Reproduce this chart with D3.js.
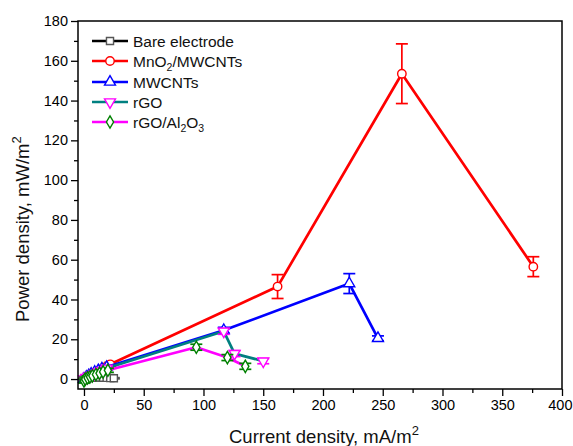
<!DOCTYPE html>
<html>
<head>
<meta charset="utf-8">
<script src="https://cdn.jsdelivr.net/npm/d3@7/dist/d3.min.js"></script>
<style>
  html, body { margin: 0; padding: 0; background: #fff; }
  svg { display: block; font-family: "Liberation Sans", Arial, sans-serif; }
</style>
</head>
<body>
<svg id="chart" width="573" height="446"></svg>
<script>
// Power density vs current density for each electrode material
const bareX = [0, 2, 4, 7, 10, 13, 16, 19, 22, 25];
const bareY = [0, 0.3, 0.5, 0.7, 0.8, 0.8, 0.7, 0.6, 0.5, 0.4];
const bareErr = [0.2, 0.2, 0.2, 0.3, 0.3, 0.3, 0.3, 0.3, 0.3, 0.3];

const mnoX = [0, 2, 5, 8, 11, 15, 18, 22, 162, 266, 376];
const mnoY = [0, 0.7, 1.6, 2.6, 3.6, 4.9, 6.0, 7.4, 46.5, 153.5, 56.5];
const mnoErr = [0.3, 0.4, 0.5, 0.6, 0.7, 0.8, 0.9, 1.0, 6, 15, 5];

const mwcntX = [0, 2, 4, 6, 9, 12, 15, 19, 117, 222, 246];
const mwcntY = [0, 1.0, 1.8, 2.6, 3.5, 4.3, 5.2, 6.0, 24.5, 48, 20.5];
const mwcntErr = [0.3, 0.4, 0.5, 0.6, 0.6, 0.7, 0.8, 0.9, 1.5, 5, 1.2];

const rgoX = [0, 2, 4, 6, 9, 12, 15, 19, 117, 126, 150];
const rgoY = [0, 0.7, 1.3, 1.9, 2.7, 3.5, 4.3, 5.4, 24, 12.8, 9];
const rgoErr = [0.3, 0.4, 0.4, 0.5, 0.6, 0.6, 0.7, 0.8, 1.5, 1.5, 1.3];

const alX = [0, 1, 3, 5, 7, 10, 13, 16, 20, 94, 120, 135];
const alY = [-1, 0, 0.6, 1.1, 1.6, 2.3, 2.9, 3.6, 4.4, 16, 10.8, 6.4];
const alErr = [1, 1, 1, 1, 1, 1, 1, 1, 1, 1.5, 1.5, 1.5];

const seriesNames = ["Bare electrode", "MnO2/MWCNTs", "MWCNTs", "rGO", "rGO/Al2O3"];
const lineColors = ["#000000", "#ff0000", "#0000ff", "#008080", "#ff00ff"];
const markerColors = ["#555555", "#ff0000", "#0000ff", "#ff00ff", "#008000"];
const markerShapes = ["square", "circle", "triangle", "triangleDown", "diamond"];

const xTicks = [0, 50, 100, 150, 200, 250, 300, 350, 400];
const yTicks = [0, 20, 40, 60, 80, 100, 120, 140, 160, 180];

const seriesData = [
  [bareX, bareY, bareErr],
  [mnoX, mnoY, mnoErr],
  [mwcntX, mwcntY, mwcntErr],
  [rgoX, rgoY, rgoErr],
  [alX, alY, alErr]
].map(([xs, ys, es], i) => ({
  name: seriesNames[i],
  line: lineColors[i],
  mark: markerColors[i],
  shape: markerShapes[i],
  pts: xs.map((xv, j) => ({ x: xv, y: ys[j], e: es[j] }))
}));

const svg = d3.select("#chart");
const plotLeft = 78, plotRight = 562, plotTop = 21, plotBottom = 389;

const x = d3.scaleLinear().domain([-5, 400]).range([plotLeft, plotRight]);
const y = d3.scaleLinear().domain([-5, 180]).range([plotBottom, plotTop]);

// Axes: major ticks with labels, then minor ticks
const fontTick = "14.5px";
const xAxis = d3.axisBottom(x).tickValues(xTicks).tickSize(7).tickPadding(4);
const yAxis = d3.axisLeft(y).tickValues(yTicks).tickSize(7).tickPadding(3);
const xMinor = d3.axisBottom(x).tickValues(d3.range(25, 400, 50)).tickSize(4).tickFormat("");
const yMinor = d3.axisLeft(y).tickValues(d3.range(10, 180, 20)).tickSize(4).tickFormat("");

function styleAxis(g) {
  g.select(".domain").remove();
  g.selectAll(".tick line").attr("stroke", "#000").attr("stroke-width", 1.3);
  g.selectAll(".tick text").attr("fill", "#000").style("font-size", fontTick)
    .style("font-family", "'Liberation Sans', Arial, sans-serif");
}

const gx = svg.append("g").attr("transform", `translate(0,${plotBottom})`).call(xAxis).call(styleAxis);
// keep the last label inside the canvas
gx.selectAll(".tick text").filter(d => d === 400).attr("text-anchor", "end").attr("x", 10);
svg.append("g").attr("transform", `translate(0,${plotBottom})`).call(xMinor).call(styleAxis);
svg.append("g").attr("transform", `translate(${plotLeft},0)`).call(yAxis).call(styleAxis);
svg.append("g").attr("transform", `translate(${plotLeft},0)`).call(yMinor).call(styleAxis);

// Axis titles
const xt = svg.append("text").attr("x", 229).attr("y", 443)
  .style("font-size", "18.5px").attr("fill", "#111");
xt.append("tspan").text("Current density, mA/m");
xt.append("tspan").attr("dy", -8).style("font-size", "13px").text("2");

const yt = svg.append("text")
  .attr("transform", "translate(29,322) rotate(-90)")
  .style("font-size", "18.5px").attr("fill", "#111");
yt.append("tspan").text("Power density, mW/m");
yt.append("tspan").attr("dy", -8).style("font-size", "13px").text("2");

// Marker drawing helper
const symbolFor = {
  square: d3.symbolSquare,
  circle: d3.symbolCircle,
  triangle: d3.symbolTriangle,
  triangleDown: d3.symbolTriangle,
  diamond: d3.symbolDiamond
};
const sizeFor = { square: 50, circle: 56, triangle: 52, triangleDown: 52, diamond: 44 };

function drawMarker(g, shape, color, cx, cy) {
  const rot = shape === "triangleDown" ? " rotate(180)" : "";
  g.append("path")
    .attr("d", d3.symbol().type(symbolFor[shape]).size(sizeFor[shape])())
    .attr("transform", `translate(${cx},${cy})${rot}`)
    .attr("fill", "#fff")
    .attr("stroke", color)
    .attr("stroke-width", 1.4);
}

const plot = svg.append("g");
const line = d3.line().x(d => x(d.x)).y(d => y(d.y));

seriesData.forEach(s => {
  const g = plot.append("g");
  g.append("path").datum(s.pts).attr("d", line)
    .attr("fill", "none").attr("stroke", s.line).attr("stroke-width", 2.7)
    .attr("stroke-linejoin", "round");
  // Error bars with caps
  s.pts.forEach(p => {
    const px = x(p.x), y1 = y(p.y + p.e), y2 = y(p.y - p.e);
    g.append("line").attr("x1", px).attr("x2", px).attr("y1", y1).attr("y2", y2)
      .attr("stroke", s.mark).attr("stroke-width", 1.7);
    [y1, y2].forEach(yy => g.append("line")
      .attr("x1", px - 6).attr("x2", px + 6).attr("y1", yy).attr("y2", yy)
      .attr("stroke", s.mark).attr("stroke-width", 1.7));
  });
  s.pts.forEach(p => drawMarker(g, s.shape, s.mark, x(p.x), y(p.y)));
});

// Frame
svg.append("rect").attr("x", plotLeft).attr("y", plotTop)
  .attr("width", plotRight - plotLeft).attr("height", plotBottom - plotTop)
  .attr("fill", "none").attr("stroke", "#000").attr("stroke-width", 1.5);

// Legend
const legend = svg.append("g");
const legendLabels = [
  [["Bare electrode"]],
  [["MnO"], ["2", "sub"], ["/MWCNTs"]],
  [["MWCNTs"]],
  [["rGO"]],
  [["rGO/Al"], ["2", "sub"], ["O"], ["3", "sub"]]
];
const legendY = [41, 61, 82, 102, 122];
seriesData.forEach((s, i) => {
  const ly = legendY[i];
  legend.append("line").attr("x1", 92).attr("x2", 128).attr("y1", ly).attr("y2", ly)
    .attr("stroke", s.line).attr("stroke-width", 2.7);
  drawMarker(legend, s.shape, s.mark, 110, ly);
  const t = legend.append("text").attr("x", 133).attr("y", ly + 5.5)
    .style("font-size", "15.5px").attr("fill", "#111");
  let shifted = false;
  legendLabels[i].forEach(([txt, kind]) => {
    const sp = t.append("tspan").text(txt);
    if (kind === "sub") {
      sp.attr("dy", 4).style("font-size", "10.5px");
      shifted = true;
    } else if (shifted) {
      sp.attr("dy", -4);
      shifted = false;
    }
  });
});
</script>
</body>
</html>
